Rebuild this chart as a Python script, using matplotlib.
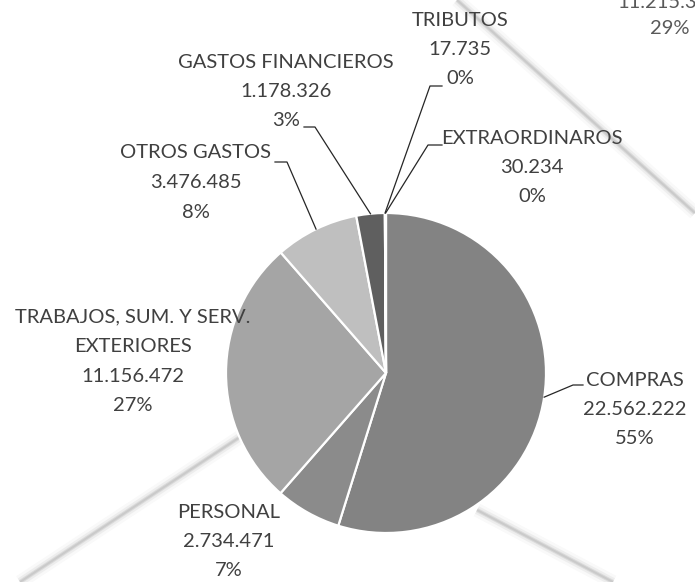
import math

import matplotlib
matplotlib.use("Agg")
import matplotlib.pyplot as plt

# ── Data ────────────────────────────────────────────────────────────────────
categories = [
    "COMPRAS",
    "PERSONAL",
    "TRABAJOS, SUM. Y SERV.\nEXTERIORES",
    "OTROS GASTOS",
    "GASTOS FINANCIEROS",
    "TRIBUTOS",
    "EXTRAORDINAROS",
]
values = [22562222, 2734471, 11156472, 3476485, 1178326, 17735, 30234]
value_labels = ["22.562.222", "2.734.471", "11.156.472", "3.476.485",
                "1.178.326", "17.735", "30.234"]
pct_labels = ["55%", "7%", "27%", "8%", "3%", "0%", "0%"]

colors = ["#838383", "#8b8b8b", "#a5a5a5", "#bfbfbf", "#5f5f5f",
          "#707070", "#cfcfcf"]

# ── Layout (pixel space of the 695x582 image, y pointing down) ──────────────
W, H = 695, 582
CX, CY, R = 386, 373, 160
LINE_H = 29.5
FS = 14.5
# centre x and first-line y of each label block
label_pos = [(635, 380), (229, 512), (133, 317), (196, 153),
             (286, 62), (460, 20), (532, 138)]
# leader lines: elbow point and end point (None = no leader)
leaders = [((573, 385), (583, 385)), None, None,
           ((287, 162), (275, 162)), ((315, 127), (304, 127)),
           ((430, 86), (442, 86)), ((428, 145), (442, 145))]
TEXT_C = "#404040"
FONT = ["Lato", "DejaVu Sans"]

fig = plt.figure(figsize=(W / 100, H / 100), dpi=100)
ax = fig.add_axes([0, 0, 1, 1])

# faint, blurry diagonal watermark strokes in the background
watermark = [((457, 0), (695, 213)), ((240, 437), (20, 582)),
             ((477, 510), (613, 582))]
for (x0, y0), (x1, y1) in watermark:
    for lw, a in ((10, 0.05), (6, 0.10), (3, 0.18), (1.5, 0.2)):
        ax.plot([x0, x1], [y0, y1], color="#8a8a8a", lw=lw, alpha=a,
                solid_capstyle="butt", zorder=0)

# y axis is inverted, so increasing angle runs clockwise on screen;
# 270 deg is 12 o'clock
wedges, _ = ax.pie(values, colors=colors, startangle=270, counterclock=True,
                   center=(CX, CY), radius=R,
                   wedgeprops=dict(edgecolor="white", linewidth=1.6))
for w in wedges:
    w.set_zorder(2)

for i, w in enumerate(wedges):
    lines = categories[i].split("\n") + [value_labels[i], pct_labels[i]]
    x, y0 = label_pos[i]
    for k, s in enumerate(lines):
        ax.text(x, y0 + k * LINE_H, s, ha="center", va="center",
                fontsize=FS, color=TEXT_C, family=FONT, zorder=4)
    if leaders[i] is not None:
        t = math.radians((w.theta1 + w.theta2) / 2)
        px, py = CX + R * math.cos(t), CY + R * math.sin(t)
        (ex, ey), (fx, fy) = leaders[i]
        ax.plot([px, ex, fx], [py, ey, fy], color="#262626", lw=0.9,
                zorder=3)

# cut-off labels of a neighbouring chart at the top-right edge
ax.text(617, 2, "11.215.3", ha="left", va="center", fontsize=FS,
        color="#595959", family=FONT, zorder=1)
ax.text(670, 28, "29%", ha="center", va="center", fontsize=FS,
        color="#595959", family=FONT, zorder=1)

ax.set_xlim(0, W)
ax.set_ylim(H, 0)
ax.set_aspect("equal")
ax.axis("off")

fig.savefig("out.png", dpi=100, facecolor="white")
